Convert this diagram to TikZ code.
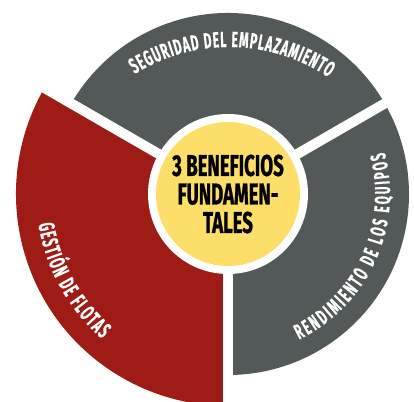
\documentclass[tikz,border=0pt]{standalone}
\usepackage{fontspec}
\usetikzlibrary{decorations.text}
\newfontfamily\condfont[FakeStretch=0.62, FakeBold=0.8]{Fira Sans}
\newfontfamily\labelfont[FakeStretch=0.55, FakeBold=0.3]{Fira Sans}
\definecolor{sectgray}{RGB}{83,89,89}
\definecolor{sectred}{RGB}{158,27,22}
\definecolor{hubyellow}{RGB}{253,222,104}
\tikzset{
  gapline/.style={white, line width=10pt},
  arctext/.style={decorate, decoration={text along path, text color=white, text align={fit to path}}}
}
\begin{document}
\begin{tikzpicture}[x=1pt,y=1pt]
\useasboundingbox (0,0) rectangle (414,401);
\coordinate (C) at (228,207);
\coordinate (T) at (229,176);
% sectors
\fill[sectgray] (C) -- ++(30:181pt) arc[start angle=30, end angle=150, radius=181pt] -- cycle;
\fill[sectgray] (C) -- ++(-90:181pt) arc[start angle=-90, end angle=30, radius=181pt] -- cycle;
\fill[sectred] (C) -- ++(150:212pt) arc[start angle=150, end angle=270, radius=212pt] -- cycle;
% gaps
\draw[gapline] (C) -- ++(30:240pt);
\draw[gapline] (C) -- ++(150:240pt);
\draw[gapline] (C) -- ++(270:240pt);
% hub
\fill[white] (C) circle[radius=80pt];
\node[circle, fill=hubyellow, minimum size=144pt, inner sep=0pt, align=center,
      font=\condfont\bfseries\fontsize{30}{28.5}\selectfont] (hub) at (C)
  {3 BENEFICIOS\\FUNDAMEN-\\TALES};
% curved labels
\path[arctext, decoration={text={|\labelfont\bfseries\fontsize{22}{22}\selectfont|SEGURIDAD DEL EMPLAZAMIENTO}}]
  (T) ++(122:178pt) arc[start angle=122, end angle=56, radius=178pt];
\path[arctext, decoration={text={|\labelfont\bfseries\fontsize{21.5}{21.5}\selectfont|RENDIMIENTO DE LOS EQUIPOS}}]
  (C) ++(-64:162pt) arc[start angle=-64, end angle=15, radius=162pt];
\path[arctext, decoration={text={|\labelfont\bfseries\fontsize{22.5}{22.5}\selectfont|GESTIÓN DE FLOTAS}}]
  (C) ++(189:192pt) arc[start angle=189, end angle=229, radius=192pt];
\end{tikzpicture}
\end{document}
